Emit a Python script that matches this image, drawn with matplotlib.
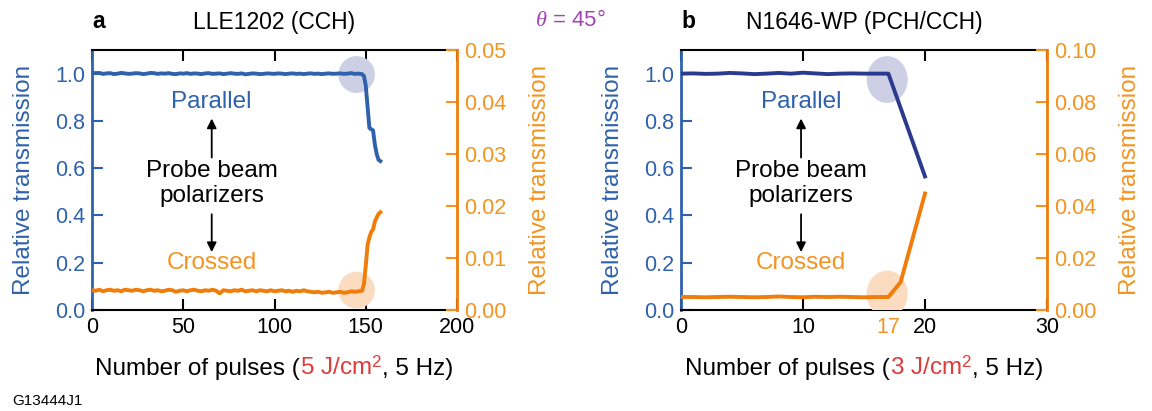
import matplotlib
matplotlib.use("Agg")
import matplotlib.pyplot as plt
from matplotlib.patches import Ellipse
from matplotlib.offsetbox import TextArea, HPacker, AnnotationBbox

plt.rcParams['font.family'] = ['Liberation Sans', 'DejaVu Sans']
plt.rcParams['mathtext.fontset'] = 'custom'
plt.rcParams['mathtext.rm'] = 'Liberation Sans'
plt.rcParams['mathtext.it'] = 'Liberation Serif:italic'

BLUE = "#2f62ad"
NAVY = "#2b3a8f"
ORANGE = "#f07d0a"
ORANGE_TXT = "#f39421"
RED = "#e03a3a"
PURPLE = "#a444b4"
LAVENDER = "#cdd0e4"
PEACH = "#fbdcc0"

# ---- panel a data (LLE1202, CCH) ----
a_pulses = list(range(0, 148, 2)) + [148, 149, 150, 151, 152, 153, 154, 155, 156, 157, 158]
a_parallel = [1.004, 1.002, 1.003, 0.999, 1.001, 1.002, 0.998, 1.000, 1.003, 1.001,
              0.999, 1.000, 1.002, 1.001, 0.998, 1.000, 1.003, 1.002, 0.999, 1.001,
              1.000, 1.002, 0.999, 0.998, 1.001, 1.000, 1.002, 0.999, 1.001, 1.000,
              0.998, 1.001, 1.002, 0.999, 1.000, 1.001, 0.998, 1.000, 1.002, 1.000,
              0.999, 1.001, 0.997, 0.999, 1.001, 1.000, 0.998, 0.999, 1.001, 1.000,
              0.999, 1.001, 1.000, 0.998, 1.000, 1.001, 0.999, 1.000, 0.998, 1.000,
              1.001, 0.999, 1.000, 0.998, 1.000, 1.001, 0.999, 1.000, 1.001, 0.999,
              1.000, 1.002, 0.999, 1.000,
              0.998, 0.990, 0.950, 0.860, 0.770, 0.765, 0.760, 0.700, 0.660, 0.635, 0.630]
a_crossed = [0.0038, 0.0037, 0.0039, 0.0036, 0.0038, 0.0039, 0.0037, 0.0038, 0.0036, 0.0039,
             0.0038, 0.0037, 0.0039, 0.0038, 0.0036, 0.0038, 0.0039, 0.0037, 0.0038, 0.0036,
             0.0037, 0.0039, 0.0038, 0.0035, 0.0037, 0.0038, 0.0036, 0.0038, 0.0039, 0.0037,
             0.0036, 0.0038, 0.0037, 0.0039, 0.0037, 0.0032, 0.0038, 0.0037, 0.0036, 0.0038,
             0.0037, 0.0039, 0.0036, 0.0037, 0.0038, 0.0036, 0.0038, 0.0037, 0.0036, 0.0038,
             0.0036, 0.0037, 0.0038, 0.0036, 0.0037, 0.0035, 0.0037, 0.0036, 0.0038, 0.0036,
             0.0035, 0.0034, 0.0035, 0.0033, 0.0034, 0.0035, 0.0033, 0.0034, 0.0035, 0.0033,
             0.0034, 0.0036, 0.0035, 0.0036,
             0.0037, 0.0050, 0.0085, 0.0125, 0.0140, 0.0150, 0.0155, 0.0170, 0.0178, 0.0185, 0.0188]

# ---- panel b data (N1646-WP, PCH/CCH) ----
b_pulses = list(range(0, 18)) + [20]
b_parallel = [1.000, 1.001, 0.999, 1.000, 1.003, 1.001, 0.998, 1.000, 1.003, 1.000,
              1.004, 1.001, 0.998, 1.000, 1.001, 1.000, 1.000, 1.000, 0.565]
b_cross_pulses = list(range(0, 18)) + [18, 20]
b_crossed = [0.0050, 0.0050, 0.0049, 0.0050, 0.0051, 0.0050, 0.0049, 0.0050, 0.0052, 0.0050,
             0.0049, 0.0051, 0.0050, 0.0051, 0.0050, 0.0049, 0.0050, 0.0050, 0.0107, 0.0448]

fig = plt.figure(figsize=(11.52, 4.11), dpi=100)
W, H = 1152.0, 411.0
FS = 15.5
LFS = 17.5


def make_panel(left_px, right_px, x, par, xc, cro, par_color, xlim, xticks, rlim, rticks,
               circ, title, letter, xlabel_red):
    ax = fig.add_axes([left_px / W, 101 / H, (right_px - left_px) / W, 260 / H])
    ax2 = ax.twinx()

    # shaded circles marking the damage onset (behind both curves)
    cx, cw, ch, ytop, ybot = circ
    ax2.add_patch(Ellipse((cx, ytop), cw, ch, facecolor=LAVENDER, edgecolor='none',
                          zorder=0, transform=ax.transData))
    ax2.add_patch(Ellipse((cx, ybot), cw, ch, facecolor=PEACH, edgecolor='none',
                          zorder=0, transform=ax.transData))

    ax2.plot(x, [p * rlim[1] / 1.1 for p in par], color=par_color, lw=2.8,
             solid_joinstyle='round', zorder=3)
    ax2.plot(xc, cro, color=ORANGE, lw=2.8, solid_joinstyle='round', zorder=3)

    ax.set_xlim(*xlim)
    ax.set_ylim(0, 1.1)
    ax2.set_ylim(*rlim)
    ax.set_xticks(xticks)
    ax.set_yticks([0, 0.2, 0.4, 0.6, 0.8, 1.0])
    ax.set_yticklabels(['0.0', '0.2', '0.4', '0.6', '0.8', '1.0'])
    ax2.set_yticks(rticks)
    ax2.set_yticklabels(['%.2f' % v for v in rticks])

    ax.tick_params(axis='x', direction='in', length=8, width=1.5, top=True,
                   labelsize=FS, pad=5, colors='black')
    ax.tick_params(axis='y', direction='in', length=8, width=1.5, colors=BLUE,
                   labelsize=FS, pad=5)
    ax2.tick_params(axis='y', direction='in', length=8, width=1.5, colors=ORANGE_TXT,
                    labelsize=FS, pad=5)

    for s in ['top', 'bottom']:
        ax.spines[s].set_linewidth(1.5)
    ax.spines['left'].set_color(BLUE)
    ax.spines['left'].set_linewidth(2)
    ax.spines['right'].set_visible(False)
    for s in ['top', 'bottom', 'left']:
        ax2.spines[s].set_visible(False)
    ax2.spines['right'].set_color(ORANGE)
    ax2.spines['right'].set_linewidth(2)

    ax.set_ylabel('Relative transmission', color=BLUE, fontsize=LFS, labelpad=14)
    ax2.set_ylabel('Relative transmission', color=ORANGE_TXT, fontsize=LFS, labelpad=16)

    # annotations inside the panel
    xm = xlim[0] + (xlim[1] - xlim[0]) * 0.328
    ax.text(xm, 0.878, 'Parallel', color=BLUE, fontsize=LFS, ha='center', va='center')
    ax.text(xm, 0.536, 'Probe beam\npolarizers', color='black', fontsize=LFS,
            ha='center', va='center', linespacing=1.15)
    ax.text(xm, 0.198, 'Crossed', color=ORANGE_TXT, fontsize=LFS, ha='center', va='center')
    ax.annotate('', xy=(xm, 0.81), xytext=(xm, 0.645),
                arrowprops=dict(arrowstyle='-|>', color='black', lw=1.3,
                                mutation_scale=14, shrinkA=0, shrinkB=0))
    ax.annotate('', xy=(xm, 0.245), xytext=(xm, 0.405),
                arrowprops=dict(arrowstyle='-|>', color='black', lw=1.3,
                                mutation_scale=14, shrinkA=0, shrinkB=0))

    # title
    mid = (left_px + right_px) / 2.0
    fig.text(mid / W, 1 - 22 / H, title, fontsize=16.5, ha='center', va='center')
    fig.text(left_px / W, 1 - 22 / H, letter, fontsize=16.5, fontweight='bold',
             ha='left', va='center')

    # x label with a red fluence part
    parts = [TextArea('Number of pulses (', textprops=dict(fontsize=LFS, color='black')),
             TextArea(xlabel_red, textprops=dict(fontsize=LFS, color=RED)),
             TextArea(', 5 Hz)', textprops=dict(fontsize=LFS, color='black'))]
    box = HPacker(children=parts, align='baseline', pad=0, sep=0)
    ab = AnnotationBbox(box, (mid / W, 1 - 368 / H), xycoords='figure fraction',
                        frameon=False, box_alignment=(0.5, 0.5))
    fig.add_artist(ab)
    return ax, ax2


ax_a, ax_a2 = make_panel(92, 457, a_pulses, a_parallel, a_pulses, a_crossed, BLUE,
                         (0, 200), [0, 50, 100, 150, 200],
                         (0, 0.05), [0, 0.01, 0.02, 0.03, 0.04, 0.05],
                         (145, 20, 0.156, 0.996, 0.084),
                         'LLE1202 (CCH)', 'a', r'5 J/cm$^2$')

ax_b, ax_b2 = make_panel(681, 1047, b_pulses, b_parallel, b_cross_pulses, b_crossed, NAVY,
                         (0, 30), [0, 10, 17, 20, 30],
                         (0, 0.1), [0, 0.02, 0.04, 0.06, 0.08, 0.10],
                         (16.9, 3.36, 0.198, 0.975, 0.068),
                         'N1646-WP (PCH/CCH)', 'b', r'3 J/cm$^2$')

# pulse 17 tick and label in orange
ax_b.get_xticklabels()[2].set_color(ORANGE_TXT)
ax_b.xaxis.get_major_ticks()[2].tick1line.set_color(ORANGE)
ax_b.xaxis.get_major_ticks()[2].tick1line.set_markersize(11)
ax_b.xaxis.get_major_ticks()[2].tick1line.set_markeredgewidth(2.2)
ax_b.xaxis.get_major_ticks()[2].tick2line.set_visible(False)

fig.text(570 / W, 1 - 21 / H, r'$\theta$ = 45°', color=PURPLE, fontsize=16,
         ha='center', va='center')
fig.text(12 / W, 1 - 401 / H, 'G13444J1', fontsize=11, ha='left', va='center')

fig.savefig('out.png', dpi=100)
